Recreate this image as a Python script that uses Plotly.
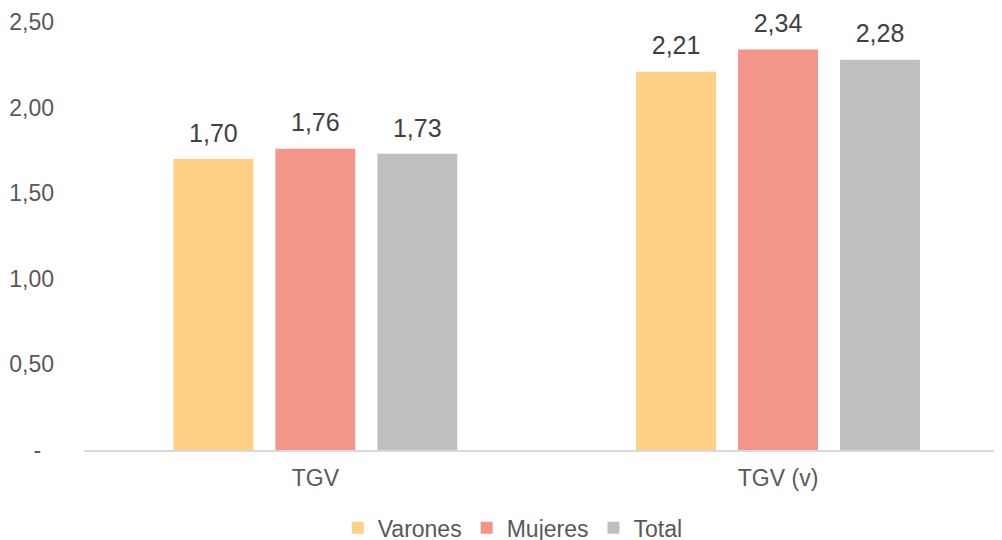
import plotly.graph_objects as go

categories = ["TGV", "TGV (v)"]
series_names = ["Varones", "Mujeres", "Total"]
varones = [1.70, 2.21]
mujeres = [1.76, 2.34]
total = [1.73, 2.28]
colors = ["#FDD086", "#F4958A", "#BFBFBF"]
tick_vals = [0, 0.5, 1.0, 1.5, 2.0, 2.5]
tick_text = ["-\u00a0\u00a0", "0,50", "1,00", "1,50", "2,00", "2,50"]

FONT = "Liberation Sans, Arial"

fig = go.Figure()
for name, vals, col in zip(series_names, [varones, mujeres, total], colors):
    fig.add_trace(go.Bar(
        x=categories, y=vals, name=name, marker_color=col,
        marker_line_width=0, offsetgroup=name,
    ))
for name, vals in zip(series_names, [varones, mujeres, total]):
    fig.add_trace(go.Scatter(
        x=categories, y=vals, mode="markers+text", offsetgroup=name,
        text=[f"{v:.2f}".replace(".", ",") for v in vals],
        textposition="top center",
        marker=dict(size=16, color="rgba(0,0,0,0)"),
        textfont=dict(size=25, color="#404040", family=FONT),
        showlegend=False, cliponaxis=False, hoverinfo="skip",
    ))

fig.update_layout(
    width=1002, height=540,
    margin=dict(l=76, r=8, t=14, b=98, autoexpand=False),
    paper_bgcolor="white", plot_bgcolor="white",
    separators=",.",
    barmode="group", bargap=0.339, bargroupgap=0.216,
    scattermode="group", scattergap=0.339,
    font=dict(family=FONT, color="#595959", size=23),
    showlegend=True,
    legend=dict(orientation="h", x=0.467, xanchor="center", y=-0.182, yanchor="middle",
                font=dict(size=23, color="#595959"), itemwidth=30,
                traceorder="normal"),
    xaxis=dict(range=[-0.5, 1.484], showgrid=False, showline=True, linecolor="#D9D9D9",
               linewidth=1.5, ticks="", tickfont=dict(size=23, color="#595959"),
               ticklabelstandoff=7),
    yaxis=dict(range=[0, 2.5], tickvals=tick_vals, ticktext=tick_text, showgrid=False,
               zeroline=False, showline=False, ticks="",
               tickfont=dict(size=23, color="#595959"), ticklabelstandoff=29),
)

fig.write_html("out.html")
